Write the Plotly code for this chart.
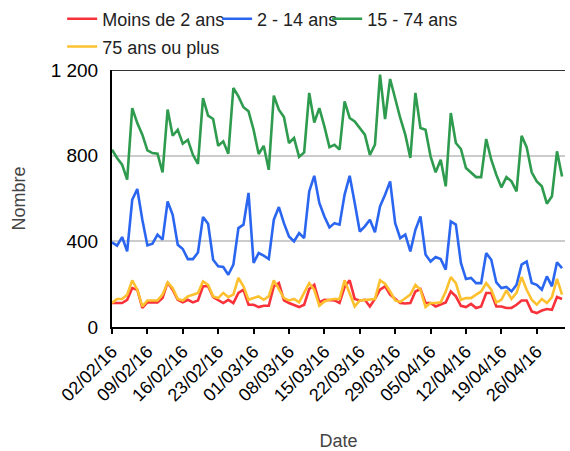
import pandas as pd
import plotly.graph_objects as go

start_date = "2016-02-02"
n_days = 90
dates = pd.date_range(start_date, periods=n_days, freq="D")

moins_2 = [112, 112, 112, 127, 182, 174, 89, 115, 115, 115,
           135, 208, 174, 127, 115, 127, 115, 124, 190, 190,
           140, 124, 112, 127, 112, 159, 174, 104, 104, 93,
           99, 99, 190, 205, 124, 112, 104, 93, 104, 177,
           197, 115, 127, 124, 124, 112, 187, 218, 131, 124,
           127, 96, 131, 174, 190, 151, 131, 112, 110, 112,
           166, 177, 112, 112, 96, 104, 115, 166, 143, 99,
           93, 108, 89, 96, 159, 159, 96, 96, 89, 89,
           104, 124, 124, 73, 65, 77, 84, 80, 140, 131]

de_2_14 = [395, 380, 420, 353, 594, 644, 501, 381, 389, 431,
           408, 586, 524, 384, 364, 317, 317, 348, 514, 482,
           314, 283, 280, 244, 291, 462, 478, 626, 299, 345,
           333, 317, 501, 560, 485, 423, 400, 439, 415, 633,
           706, 579, 516, 465, 485, 478, 618, 706, 579, 446,
           470, 501, 442, 563, 618, 680, 485, 415, 431, 353,
           454, 516, 338, 306, 327, 317, 268, 493, 478, 299,
           224, 229, 205, 205, 345, 314, 208, 182, 187, 166,
           197, 291, 306, 205, 197, 174, 236, 190, 302, 275]

de_15_74 = [828, 789, 758, 688, 1022, 952, 898, 825, 812, 809,
            722, 1015, 893, 921, 856, 874, 804, 762, 1069, 987,
            971, 846, 867, 809, 1116, 1077, 1026, 1007, 921, 808,
            846, 734, 1080, 1015, 980, 859, 882, 794, 815, 1093,
            955, 1022, 937, 840, 851, 828, 1053, 976, 960, 929,
            898, 804, 851, 1178, 971, 1158, 1061, 976, 898, 789,
            1093, 929, 921, 797, 722, 781, 657, 999, 859, 831,
            742, 719, 700, 700, 878, 781, 711, 652, 700, 680,
            633, 893, 840, 722, 680, 657, 576, 610, 820, 703]

plus_75 = [112, 131, 131, 151, 218, 174, 96, 124, 124, 124,
           151, 208, 182, 131, 124, 143, 151, 159, 213, 197,
           143, 135, 159, 140, 151, 229, 190, 127, 135, 143,
           127, 143, 218, 174, 135, 124, 131, 115, 159, 205,
           174, 99, 119, 127, 131, 131, 218, 159, 96, 124,
           127, 127, 131, 218, 202, 166, 124, 117, 135, 151,
           197, 174, 93, 112, 112, 115, 166, 233, 205, 127,
           135, 135, 151, 166, 205, 174, 115, 127, 171, 131,
           159, 233, 174, 127, 104, 131, 112, 140, 225, 151]

series_names = ["Moins de 2 ans", "2 - 14 ans", "15 - 74 ans", "75 ans ou plus"]
series_values = [moins_2, de_2_14, de_15_74, plus_75]
series_colors = ["#f8323a", "#2a66f0", "#2e9b4e", "#fdc02f"]
series_legends = ["legend", "legend2", "legend3", "legend4"]

tick_dates = pd.date_range("2016-02-02", "2016-04-26", freq="7D")
y_tick_vals = [0, 400, 800, 1200]
y_tick_text = ["0", "400", "800", "1 200"]

fig = go.Figure()
for name, vals, col, lg in zip(series_names, series_values, series_colors, series_legends):
    fig.add_trace(go.Scatter(x=dates, y=vals, mode="lines", name=name, legend=lg,
                             line=dict(color=col, width=2.6)))

font_family = "Arial, Liberation Sans, sans-serif"
legend_common = dict(orientation="h", xanchor="left", yanchor="middle",
                     font=dict(size=18, color="#222", family=font_family),
                     bgcolor="rgba(0,0,0,0)", itemwidth=30, traceorder="normal")

fig.update_layout(
    width=570, height=451,
    margin=dict(l=112, r=5, t=70, b=124, autoexpand=False),
    paper_bgcolor="white", plot_bgcolor="white",
    font=dict(family=font_family, size=18, color="#000"),
    showlegend=True,
    legend=dict(x=-0.110, y=1.198, **legend_common),
    legend2=dict(x=0.232, y=1.198, **legend_common),
    legend3=dict(x=0.475, y=1.198, **legend_common),
    legend4=dict(x=-0.110, y=1.09, **legend_common),
    xaxis=dict(
        range=[pd.Timestamp("2016-02-02"), pd.Timestamp("2016-05-01 14:00")],
        tickvals=tick_dates, tickformat="%d/%m/%y", tickangle=-45,
        showgrid=False, showline=True, linecolor="#000", linewidth=2,
        ticks="outside", ticklen=5, tickcolor="#000", tickwidth=2,
        tickfont=dict(size=18, color="#000"),
        title=dict(text="Date", font=dict(size=18, color="#444"), standoff=30),
        zeroline=False, automargin=False,
    ),
    yaxis=dict(
        range=[0, 1200], tickvals=y_tick_vals, ticktext=y_tick_text,
        showgrid=True, gridcolor="#cccccc", gridwidth=2,
        showline=True, linecolor="#000", linewidth=2,
        tickfont=dict(size=19, color="#000"), ticklabelstandoff=8,
        title=dict(text="Nombre", font=dict(size=18, color="#444"), standoff=20),
        zeroline=False, automargin=False,
    ),
)
fig.add_shape(type="line", xref="paper", yref="y", x0=0, x1=1, y0=1200, y1=1200,
              line=dict(color="#333", width=2))

fig.write_html("out.html", config={"displayModeBar": False},
               post_script="document.body.style.margin='0';")
